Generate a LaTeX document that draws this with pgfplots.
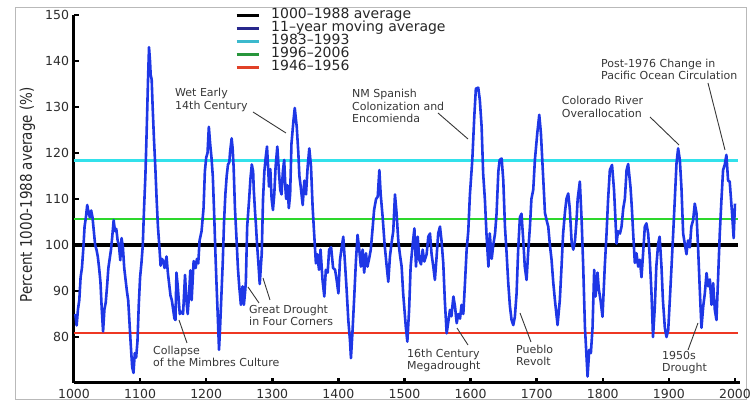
\documentclass[border=0pt]{standalone}
\usepackage{pgfplots}
\pgfplotsset{compat=1.18}
\usepackage{graphicx}
\usepackage{fontspec}
\setmainfont{DejaVu Sans}
\definecolor{cblue}{RGB}{30,55,230}
\definecolor{ccyan}{RGB}{50,225,235}
\definecolor{cgreen}{RGB}{45,215,45}
\definecolor{cred}{RGB}{238,55,35}
\definecolor{lblue}{RGB}{40,40,140}
\definecolor{lcyan}{RGB}{60,185,205}
\definecolor{lgreen}{RGB}{40,150,60}
\definecolor{lred}{RGB}{225,65,40}
\definecolor{anno}{RGB}{55,55,55}
\definecolor{tickc}{RGB}{45,45,45}
\newcommand{\anfont}{\fontsize{11}{13}\selectfont}
\begin{document}
\begin{tikzpicture}
\path[use as bounding box] (-74pt,-18pt) rectangle (681pt,383pt);
\draw[gray!55, line width=0.8pt] (-59pt,376pt) rectangle (672pt,-16pt);
\begin{axis}[
  scale only axis, width=665.6pt, height=368pt,
  xmin=1000, xmax=2007, ymin=70, ymax=150,
  axis x line=bottom, axis y line=left,
  axis line style={-, line width=3pt, black},
  xtick={1000,1100,...,2000}, ytick={80,90,...,150},
  tick align=inside, major tick length=5pt,
  tick style={line width=2.5pt, black},
  /pgf/number format/assume math mode=true,
  /pgf/number format/set thousands separator={},
  ticklabel style={font=\fontsize{12.5}{14}\selectfont, text=tickc},
  xticklabel style={yshift=-3pt},
  yticklabel style={xshift=-1.5pt},
  ylabel={\scalebox{0.84}[1]{Percent 1000-1988 average (\%)}},
  ylabel style={at={(axis description cs:-0.0699,0.511)}, anchor=center, font=\fontsize{16}{18}\selectfont, text=black!85},
  legend style={at={(axis description cs:0.2419,1.0177)}, anchor=north west, draw=none, fill=none, inner sep=0pt, row sep=0pt, column sep=8pt,
     nodes={inner xsep=3pt, inner ysep=0.3pt, text height=9.5pt, text depth=3pt, font=\fontsize{14}{13}\selectfont, text=black!85}},
  legend cell align=left,
  legend image code/.code={\draw[#1] (0pt,0pt) -- (22pt,0pt);},
]
% horizontal reference lines
\addplot[forget plot, black, line width=4.5pt] coordinates {(1000,100) (2005,100)};
\addplot[forget plot, ccyan, line width=3pt] coordinates {(1000,118.4) (2005,118.4)};
\addplot[forget plot, cgreen, line width=2pt] coordinates {(1000,105.7) (2005,105.7)};
\addplot[forget plot, cred, line width=2pt] coordinates {(1000,80.8) (2005,80.8)};
% 11-year moving average
\addplot[forget plot, cblue, line width=2.6pt, line join=round] coordinates {
(1002,85) (1004,82.5) (1006,86) (1008,88) (1010,93) (1012,95) (1014,99) (1016,104) (1018,106) (1020,108.7)
(1022,107) (1024,106) (1026,107.5) (1028,106) (1030,103) (1032,100) (1034,99) (1036,97.5) (1038,95) (1040,92)
(1042,86) (1044,81.2) (1046,86) (1048,87.5) (1050,91) (1052,95) (1054,97) (1056,99) (1058,102) (1060,105.4)
(1062,103) (1064,103.5) (1066,101) (1068,100) (1070,96.7) (1072,101.5) (1074,99.5) (1076,95) (1078,92.5) (1080,90)
(1082,88) (1084,83) (1086,78) (1088,73.5) (1090,72.2) (1092,76.5) (1094,75.5) (1096,79) (1098,87) (1100,93)
(1102,96) (1104,99.8) (1106,108) (1108,115) (1110,125) (1112,136) (1113.5,143) (1115,140) (1116,137) (1117.5,136)
(1119,130) (1121,123) (1123,117) (1125,110) (1127,104) (1129,100) (1131,95.5) (1133,97) (1135,96.5) (1137,95)
(1140,97.5) (1142,94) (1144,91.5) (1146,89) (1148,88) (1150,86) (1152,84) (1153.5,83.7) (1155,94) (1157,91)
(1160,85) (1162,85.5) (1165,85) (1168,93.5) (1170,88) (1172,85) (1174,89) (1176,94.5) (1178,88) (1181,96.5)
(1184,95) (1186,97) (1188,96) (1190,101) (1193,103) (1196,108) (1198,116) (1200,119) (1202,120) (1204,125.7)
(1206,122) (1208,119) (1210,115) (1212,107) (1214,98) (1215.5,92) (1217.4,85) (1219.4,77.2) (1221,82) (1223,89)
(1225,96) (1227,105) (1229,111) (1231,115) (1233,117.5) (1235,118) (1236,120) (1238.5,123.2) (1240,121) (1241.5,117)
(1243.5,108) (1246,101) (1248,95) (1250,91) (1252.5,87) (1254,90) (1255,91) (1257,87) (1259,90) (1260,92)
(1262,104) (1264,108) (1265,110) (1267,114.5) (1269,117.5) (1271,116) (1272,112) (1274,107) (1275,105) (1277,100)
(1279,96) (1281,91.5) (1283,96) (1284,98) (1286,110) (1288,116) (1290,119) (1292,121.4) (1294,116) (1295,112.7)
(1297,116.5) (1299,110) (1301,107.6) (1303,111) (1305,117) (1307.6,121.4) (1310,116) (1312,112) (1314,111) (1316,116)
(1318,118.5) (1320,112) (1321,110) (1323,113) (1325,108) (1327,111) (1329,122) (1332,127) (1334,129.8) (1336,127)
(1337,125.7) (1339.4,120) (1341,115) (1343,112.7) (1346,108.7) (1348.5,114) (1351,111) (1353.5,117) (1356,121) (1358.6,117)
(1361,108.3) (1363.6,101.8) (1366,96) (1368,98) (1370.7,94.6) (1373,99) (1376,92.4) (1378.7,88.8) (1381,94.6) (1383.8,94)
(1386,99) (1389,99.5) (1392,95) (1395,94.6) (1397.4,92.4) (1400,89.5) (1402.4,96.7) (1405,99.5) (1407.4,101.8) (1410,96)
(1412.5,90.2) (1415,83.7) (1417.5,79.3) (1419,75.4) (1421.5,81.6) (1424,88.8) (1426.6,96.7) (1429,102.2) (1431.6,99) (1434,95.3)
(1436.7,99) (1439,94) (1441.7,98.2) (1444,95.3) (1447,97.4) (1449,99) (1452,104) (1454,107.6) (1457,110) (1459.5,110.5)
(1462,116.3) (1464,111) (1467,106) (1470,100) (1473,95.5) (1475.5,92) (1478,97.5) (1480.5,100.5) (1483,103) (1485.6,111)
(1488,107) (1490.6,101) (1493,98) (1495.7,95.3) (1498,89.5) (1502,82.2) (1504.3,79) (1507,85.9) (1509.3,95.3) (1512,99.6)
(1515,103.6) (1517.4,95.3) (1520,101.8) (1522.4,96.8) (1525,95.8) (1527.5,99) (1530,96.4) (1533.5,98) (1536,101.8) (1538.6,102.5)
(1541,98) (1543.6,95.3) (1546,92.4) (1548.6,97.5) (1551,102.5) (1553.7,104) (1556,101) (1558.7,96) (1561,88) (1563.8,80.8)
(1566,83) (1568.8,85.9) (1571,84.5) (1574,88.8) (1576.4,86.7) (1579,83) (1581.4,85) (1584,84) (1586.4,87) (1589,85)
(1591.5,91.7) (1594,98.9) (1596.5,103) (1599,111) (1602.6,118.5) (1605.6,127.9) (1608,134) (1611.6,134.2) (1614,131.5) (1616.7,125.7)
(1619,115.6) (1621.7,109.8) (1624,102.5) (1627,95.3) (1629,102.5) (1632,97) (1634.3,100) (1637,102.5) (1639.3,106.8) (1642,116)
(1644,118.5) (1647,118.8) (1649.5,114) (1652,104) (1654.5,98.2) (1657,91.7) (1659.5,86.7) (1662,83.7) (1664.6,82.6) (1667,84.4)
(1669.6,89.5) (1672,99) (1674.6,106) (1677,106.8) (1679.7,101) (1682,95.3) (1684.7,92.4) (1687,98.2) (1689.8,104) (1692,110)
(1694.8,112) (1697.3,118.5) (1700.9,124.3) (1703.9,128.3) (1706.4,124.3) (1709,117) (1711.5,110) (1712.5,107) (1715,105.4) (1717.5,104)
(1720,100) (1722.5,96.8) (1725,92) (1727.6,88) (1731.6,82.6) (1735,88) (1737.6,95.3) (1740,102.5) (1742.7,107) (1745,110)
(1747.7,111.2) (1750,108) (1753,100.4) (1755.4,99) (1758,101) (1760.3,105.4) (1762,110) (1765.3,113.8) (1768,105.4) (1770.4,95.3)
(1773,82.2) (1775.4,75.7) (1777,71.4) (1779.5,77.2) (1782,76.5) (1784.5,82) (1787,94.6) (1789,88.8) (1792,94) (1794,90.4)
(1796.6,88) (1799.6,84.4) (1803,95.3) (1805.7,102.5) (1808,109.8) (1810.7,116.3) (1814,117.4) (1817,112) (1818.5,107.6) (1820.8,100.3)
(1823,103) (1826,102.5) (1828.4,104) (1831,108) (1833.4,110) (1836,116.3) (1838.4,117.6) (1842,112.5) (1844,108) (1846,102.5)
(1848.5,96.1) (1851,98.2) (1853.6,95.3) (1856,96.8) (1858.6,93) (1861,98.2) (1863.6,104) (1866,104.7) (1868.7,102.5) (1871,97.5)
(1873.7,89.5) (1876,80) (1878.8,86.7) (1881,95.3) (1883.8,100.3) (1886,101.8) (1888.8,95.3) (1891,88) (1893.9,82) (1896.4,80)
(1899,81.5) (1901.4,88) (1904,95.3) (1906.5,102.5) (1909,110) (1911.5,117.7) (1914,121) (1916.6,118.5) (1919,112.5) (1921.6,102.5)
(1924,100.3) (1926.6,98) (1929,101) (1931.7,99.5) (1934,104) (1936.7,105.4) (1939.2,109) (1941.7,107) (1944.3,99) (1947,89.5)
(1949.3,82) (1952,86.7) (1954.4,89.5) (1957,93.9) (1959.4,91) (1962,92.5) (1964.5,87) (1967,91.7) (1969.5,85.9) (1972,83.7)
(1974.5,93) (1977,102.5) (1979.6,110) (1982,116.3) (1984.6,117.5) (1987,119.6) (1989.6,114) (1992,113.8) (1994,110) (1996,106)
(1998,101.5) (2000,109)
};
\addlegendimage{black, line width=3pt}
\addlegendentry{1000–1988 average}
\addlegendimage{lblue, line width=3pt}
\addlegendentry{11–year moving average}
\addlegendimage{lcyan, line width=3pt}
\addlegendentry{1983–1993}
\addlegendimage{lgreen, line width=3pt}
\addlegendentry{1996–2006}
\addlegendimage{lred, line width=3pt}
\addlegendentry{1946–1956}
\end{axis}
% annotations
\begin{scope}[every node/.style={anchor=base west, inner sep=0pt, font=\anfont, text=anno}]
\node at (101pt,286.5pt) {Wet Early};
\node at (101pt,273.5pt) {14th Century};
\node at (278pt,285pt) {NM Spanish};
\node at (278pt,272.5pt) {Colonization and};
\node at (278pt,260pt) {Encomienda};
\node at (487.7pt,278pt) {Colorado River};
\node at (487.7pt,265pt) {Overallocation};
\node at (527pt,315.5pt) {Post-1976 Change in};
\node at (527pt,303.5pt) {Pacific Ocean Circulation};
\node at (175pt,69.5pt) {Great Drought};
\node at (175pt,57pt) {in Four Corners};
\node at (79pt,28.5pt) {Collapse};
\node at (79pt,16pt) {of the Mimbres Culture};
\node at (333pt,25.5pt) {16th Century};
\node at (333pt,13.5pt) {Megadrought};
\node at (442pt,29.5pt) {Pueblo};
\node at (442pt,17pt) {Revolt};
\node at (588pt,23.5pt) {1950s};
\node at (588pt,11pt) {Drought};
\end{scope}
\begin{scope}[anno, line width=0.9pt]
\draw (179pt,271pt) -- (212pt,250pt);
\draw (364pt,270pt) -- (394pt,244pt);
\draw (576pt,266pt) -- (605pt,238pt);
\draw (634pt,300pt) -- (651pt,233pt);
\draw (174pt,96pt) -- (185pt,80pt);
\draw (189pt,105pt) -- (196pt,83pt);
\draw (105pt,63pt) -- (113pt,40pt);
\draw (383pt,55pt) -- (394pt,38pt);
\draw (446pt,70pt) -- (457pt,41pt);
\draw (624pt,60pt) -- (614pt,33pt);
\end{scope}
\end{tikzpicture}
\end{document}
